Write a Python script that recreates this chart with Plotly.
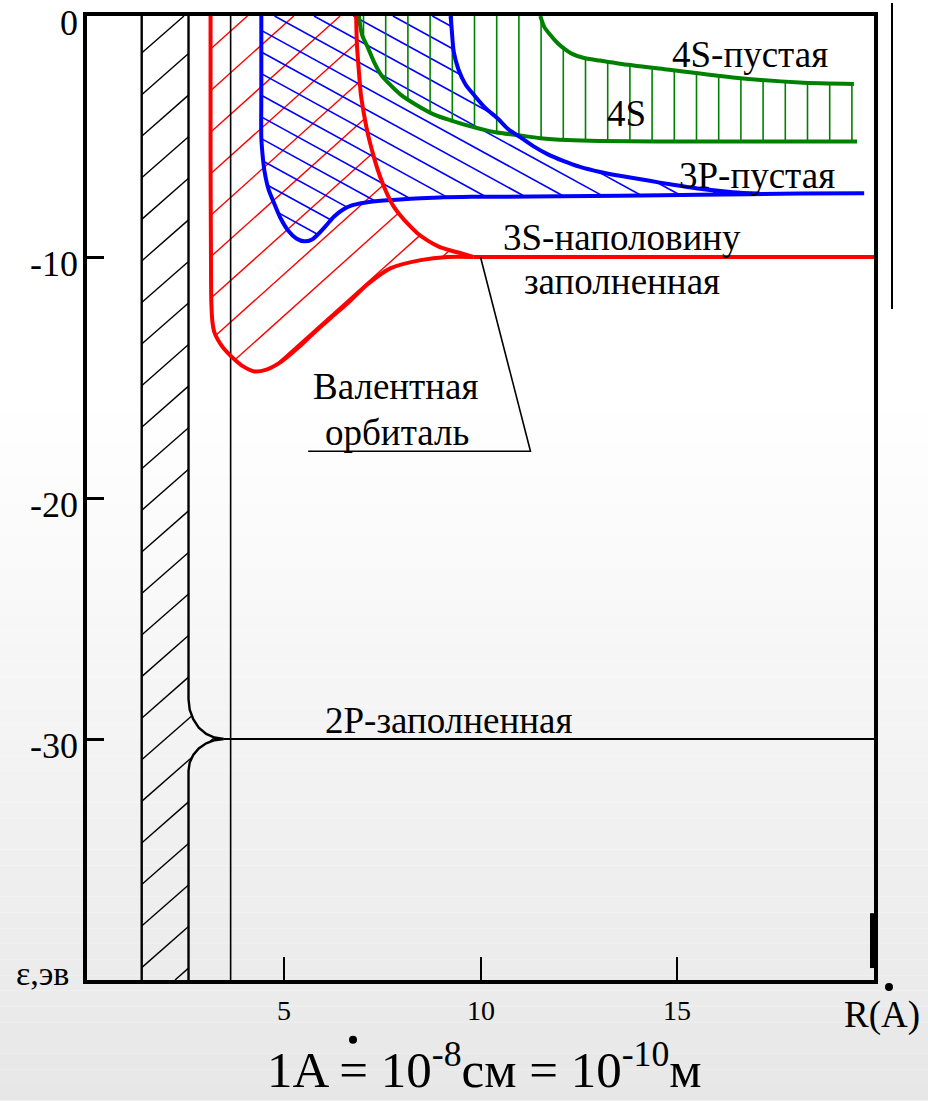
import numpy as np
import plotly.graph_objects as go

# ---------------- data ----------------
X_RANGE = [0, 20]
Y_RANGE = [-40, 0]
x_tick_vals = [5, 10, 15]
x_tick_text = ["5", "10", "15"]
y_tick_vals = [0, -10, -20, -30]
y_tick_text = ["0", "-10", "-20", "-30"]

# inner core band (hatched black) and 2P level
core_left_x = 1.39
core_top_y = 0.0
core_bottom_y = -40.0
p2_arc_up_x = [2.58, 2.58, 2.61, 2.70, 2.84, 3.03, 3.24, 3.47]
p2_arc_up_y = [0.0, -28.35, -28.78, -29.18, -29.53, -29.79, -29.94, -30.0]
p2_arc_dn_x = [3.47, 3.24, 3.03, 2.84, 2.70, 2.61, 2.58, 2.58]
p2_arc_dn_y = [-30.0, -30.05, -30.18, -30.39, -30.66, -30.98, -31.32, -40.0]
p2_level_x = [3.47, 20.0]
p2_level_y = [-30.0, -30.0]
r_equil_x = 3.65

# 3S (valence) band, red
red_outer_x = [3.14, 3.14, 3.15, 3.16, 3.19, 3.24, 3.42, 3.57, 3.75, 3.97, 4.25, 4.56, 4.94,
               5.37, 5.77, 6.20, 6.63, 7.14, 7.72, 8.48, 9.16, 9.82]
red_outer_y = [0.0, -5.73, -9.85, -11.91, -12.73, -13.14, -13.68, -13.97, -14.25, -14.54, -14.75,
               -14.67, -14.34, -13.76, -13.14, -12.52, -11.91, -11.12, -10.46, -10.13, -10.0, -10.0]
red_inner_x = [6.84, 6.86, 6.91, 6.96, 7.04, 7.14, 7.27, 7.39, 7.52, 7.65, 7.80, 7.97, 8.15,
               8.38, 8.66, 8.94, 9.24, 9.54, 9.82]
red_inner_y = [0.0, -1.20, -2.31, -3.26, -4.08, -4.91, -5.73, -6.39, -6.97, -7.46, -7.92, -8.29,
               -8.62, -8.99, -9.32, -9.57, -9.73, -9.86, -10.0]
s3_level_x = [9.82, 20.0]
s3_level_y = [-10.0, -10.0]

# 3P band, blue
blue_outer_x = [4.43, 4.43, 4.43, 4.43, 4.46, 4.51, 4.61, 4.76, 4.91, 5.11, 5.32, 5.52, 5.72,
                5.87, 6.08, 6.28, 6.51, 6.71, 7.09, 7.54, 8.23, 8.81, 9.75, 10.51, 12.03,
                13.54, 15.57, 18.10, 19.75]
blue_outer_y = [0.0, -1.48, -3.25, -5.03, -5.73, -6.43, -7.17, -7.79, -8.36, -8.90, -9.23, -9.35,
                -9.27, -9.06, -8.69, -8.32, -8.03, -7.87, -7.74, -7.66, -7.58, -7.54, -7.50,
                -7.50, -7.48, -7.46, -7.42, -7.37, -7.35]
blue_inner_x = [9.24, 9.27, 9.32, 9.44, 9.62, 9.82, 10.13, 10.43, 10.71, 11.01, 11.34, 11.70,
                12.10, 12.53, 13.04, 13.54, 14.30, 14.73, 15.57, 16.41, 17.09]
blue_inner_y = [0.0, -0.58, -1.48, -2.22, -2.84, -3.25, -3.83, -4.24, -4.70, -5.03, -5.40, -5.73,
                -6.01, -6.26, -6.47, -6.63, -6.84, -6.96, -7.17, -7.31, -7.37]

# 4S band, green
green_lower_x = [6.91, 6.99, 7.14, 7.29, 7.47, 7.72, 7.97, 8.35, 8.81, 9.24, 9.82, 10.38, 10.94,
                 11.52, 12.20, 13.04, 15.57, 19.57]
green_lower_y = [0.0, -0.78, -1.32, -1.89, -2.43, -2.88, -3.26, -3.67, -4.08, -4.33, -4.61, -4.82,
                 -4.94, -5.07, -5.15, -5.19, -5.21, -5.21]
green_upper_x = [11.52, 11.62, 11.77, 11.95, 12.10, 12.33, 12.61, 13.04, 13.54, 14.73, 16.41,
                 18.10, 19.49]
green_upper_y = [0.0, -0.45, -0.78, -1.11, -1.32, -1.57, -1.73, -1.85, -1.98, -2.22, -2.55,
                 -2.76, -2.82]

# leader line for "Валентная орбиталь"
leader_x = [10.0, 11.27, 5.62]
leader_y = [-10.0, -18.06, -18.06]

# ---------------- layout geometry / style ----------------
W, H = 928, 1101
ML, MT = 87, 13
PW, PH = 787, 967
MR = W - ML - PW
MB = H - MT - PH
SX = PW / (X_RANGE[1] - X_RANGE[0])
SY = PH / (Y_RANGE[1] - Y_RANGE[0])
FONT = "Liberation Serif"


def to_px(x, y):
    return (ML + (np.asarray(x, float) - X_RANGE[0]) * SX,
            MT + (Y_RANGE[1] - np.asarray(y, float)) * SY)


def to_data(px, py):
    return X_RANGE[0] + (px - ML) / SX, Y_RANGE[1] - (py - MT) / SY


def paper_x(px):
    return (px - ML) / PW


def paper_y(py):
    return (MT + PH - py) / PH


def hatch(poly_x, poly_y, a, b, c0, step):
    """Clip the family of lines a*px + b*py = c0 + k*step to a polygon."""
    px, py = to_px(poly_x, poly_y)
    f = a * px + b * py
    kmin = int(np.floor((f.min() - c0) / step))
    kmax = int(np.ceil((f.max() - c0) / step))
    n = len(px)
    xs, ys = [], []
    for k in range(kmin, kmax + 1):
        c = c0 + k * step
        pts = []
        for i in range(n):
            j = (i + 1) % n
            s1, s2 = f[i] - c, f[j] - c
            if (s1 > 0) != (s2 > 0):
                t = s1 / (s1 - s2)
                qx = px[i] + t * (px[j] - px[i])
                qy = py[i] + t * (py[j] - py[i])
                pts.append((-b * qx + a * qy, qx, qy))
        pts.sort()
        for m in range(0, len(pts) - 1, 2):
            x1, y1 = to_data(pts[m][1], pts[m][2])
            x2, y2 = to_data(pts[m + 1][1], pts[m + 1][2])
            xs += [x1, x2, None]
            ys += [y1, y2, None]
    return xs, ys


fig = go.Figure()

# --- hatching ---
core_poly_x = [core_left_x] + p2_arc_up_x + p2_arc_dn_x[1:] + [core_left_x]
core_poly_y = [core_top_y] + p2_arc_up_y + p2_arc_dn_y[1:] + [core_bottom_y]
hx, hy = hatch(core_poly_x, core_poly_y, 0.88, 1.0, 174.9, 41.7)
fig.add_trace(go.Scatter(x=hx, y=hy, mode="lines", line=dict(color="black", width=1.4),
                         hoverinfo="skip", showlegend=False))

red_poly_x = red_outer_x + red_inner_x[::-1]
red_poly_y = red_outer_y + red_inner_y[::-1]
hx, hy = hatch(red_poly_x, red_poly_y, 0.9, 1.0, 235.7, 41.7)
fig.add_trace(go.Scatter(x=hx, y=hy, mode="lines", line=dict(color="#ff0000", width=1.4),
                         hoverinfo="skip", showlegend=False))

bo = [(x, y) for x, y in zip(blue_outer_x, blue_outer_y) if x < blue_inner_x[-1]]
blue_poly_x = [p[0] for p in bo] + blue_inner_x[::-1]
blue_poly_y = [p[1] for p in bo] + blue_inner_y[::-1]
hx, hy = hatch(blue_poly_x, blue_poly_y, -0.55, 1.0, -116.3, 21.7)
fig.add_trace(go.Scatter(x=hx, y=hy, mode="lines", line=dict(color="#0000ff", width=1.6),
                         hoverinfo="skip", showlegend=False))

green_poly_x = green_lower_x + green_upper_x[::-1]
green_poly_y = green_lower_y + green_upper_y[::-1]
hx, hy = hatch(green_poly_x, green_poly_y, 1.0, 0.0, 363.5, 22.2)
fig.add_trace(go.Scatter(x=hx, y=hy, mode="lines", line=dict(color="#008000", width=1.6),
                         hoverinfo="skip", showlegend=False))


def curve(x, y, color, width, shape="spline"):
    fig.add_trace(go.Scatter(x=x, y=y, mode="lines",
                             line=dict(color=color, width=width, shape=shape, smoothing=0.8),
                             hoverinfo="skip", showlegend=False))


# --- black core band and 2P ---
curve([core_left_x, core_left_x], [core_top_y, core_bottom_y], "black", 2.4, "linear")
curve(p2_arc_up_x, p2_arc_up_y, "black", 2.4, "linear")
curve(p2_arc_dn_x, p2_arc_dn_y, "black", 2.4, "linear")
curve(p2_level_x, p2_level_y, "black", 1.8, "linear")
curve([r_equil_x, r_equil_x], [core_top_y, core_bottom_y], "black", 1.6, "linear")

# --- bands ---
curve(green_lower_x, green_lower_y, "#008000", 4)
curve(green_upper_x, green_upper_y, "#008000", 4)
curve(blue_outer_x, blue_outer_y, "#0000ff", 4)
curve(blue_inner_x, blue_inner_y, "#0000ff", 4)
curve(red_outer_x, red_outer_y, "#ff0000", 4)
curve(red_inner_x, red_inner_y, "#ff0000", 4)
curve(s3_level_x, s3_level_y, "#ff0000", 4, "linear")
curve(leader_x, leader_y, "black", 1.6, "linear")


# --- texts ---
def label(text, x, y, size=37, xanchor="left", yanchor="middle", ref="data"):
    kw = {}
    if ref == "paper":
        kw = dict(xref="paper", yref="paper")
    fig.add_annotation(x=x, y=y, text=text, showarrow=False, xanchor=xanchor, yanchor=yanchor,
                       font=dict(family=FONT, size=size, color="black"), **kw)


label("4S-пустая", 14.81, -1.61)
label("4S", 13.72, -4.06, xanchor="center")
label("3P-пустая", 14.99, -6.6)
label("3S-наполовину", 10.51, -9.2)
label("заполненная", 11.06, -11.01)
label("Валентная", 5.70, -15.36)
label("орбиталь", 6.0, -17.28)
label("2P-заполненная", 6.0, -29.24)

# tick labels (drawn as text beside the axes)
for v, t in zip(y_tick_vals, y_tick_text):
    yp = (v - Y_RANGE[0]) / (Y_RANGE[1] - Y_RANGE[0]) - 7 / PH
    label(t, paper_x(80), yp, size=36, xanchor="right", ref="paper")
for v, t in zip(x_tick_vals, x_tick_text):
    xp = (v - X_RANGE[0]) / (X_RANGE[1] - X_RANGE[0])
    label(t, xp, paper_y(1011), size=28, xanchor="center", ref="paper")

label("ε,эв", paper_x(14), paper_y(973), size=34, ref="paper")
label("R(A)", paper_x(882), paper_y(1015), size=37, xanchor="center", ref="paper")
label("1A = 10<sup>-8</sup>см = 10<sup>-10</sup>м", paper_x(484), paper_y(1066), size=51,
      xanchor="center", ref="paper")

# --- background gradient (slide) ---
shapes = []
n_strips = 70
for i in range(n_strips):
    py0 = H * i / n_strips
    py1 = H * (i + 1) / n_strips
    pm = 0.5 * (py0 + py1)
    g = 255 if pm < 400 else 255 - 24 * (pm - 400) / (H - 400)
    g = int(round(g))
    shapes.append(dict(type="rect", xref="paper", yref="paper",
                       x0=paper_x(0), x1=paper_x(W), y0=paper_y(py1), y1=paper_y(py0),
                       line=dict(width=0), fillcolor=f"rgb({g},{g},{g})", layer="below"))
# stray slide line right of the frame and the thick mark at the lower right
shapes.append(dict(type="line", xref="paper", yref="paper",
                   x0=paper_x(892), x1=paper_x(892), y0=paper_y(0), y1=paper_y(307),
                   line=dict(color="black", width=2)))
shapes.append(dict(type="line", xref="paper", yref="paper",
                   x0=paper_x(872), x1=paper_x(872), y0=paper_y(913), y1=paper_y(968),
                   line=dict(color="black", width=4)))
# Angstrom dots (over "A" in R(A) and in the unit formula)
for cx, cy in [(889, 987), (353, 1040)]:
    shapes.append(dict(type="circle", xref="paper", yref="paper",
                       x0=paper_x(cx - 4), x1=paper_x(cx + 4),
                       y0=paper_y(cy + 4), y1=paper_y(cy - 4),
                       line=dict(width=0), fillcolor="black"))

fig.update_layout(
    width=W, height=H,
    margin=dict(l=ML, r=MR, t=MT, b=MB, pad=0),
    paper_bgcolor="white",
    plot_bgcolor="rgba(0,0,0,0)",
    shapes=shapes,
    showlegend=False,
    xaxis=dict(range=X_RANGE, showgrid=False, zeroline=False, showline=True, linecolor="black",
               linewidth=4, mirror=True, ticks="inside", ticklen=23, tickwidth=2,
               tickcolor="black", tickvals=x_tick_vals, showticklabels=False),
    yaxis=dict(range=Y_RANGE, showgrid=False, zeroline=False, showline=True, linecolor="black",
               linewidth=4, mirror=True, ticks="inside", ticklen=17, tickwidth=3,
               tickcolor="black", tickvals=y_tick_vals, showticklabels=False),
)

fig.write_html("out.html", config={"displayModeBar": False},
               post_script="document.body.style.margin='0px';")
